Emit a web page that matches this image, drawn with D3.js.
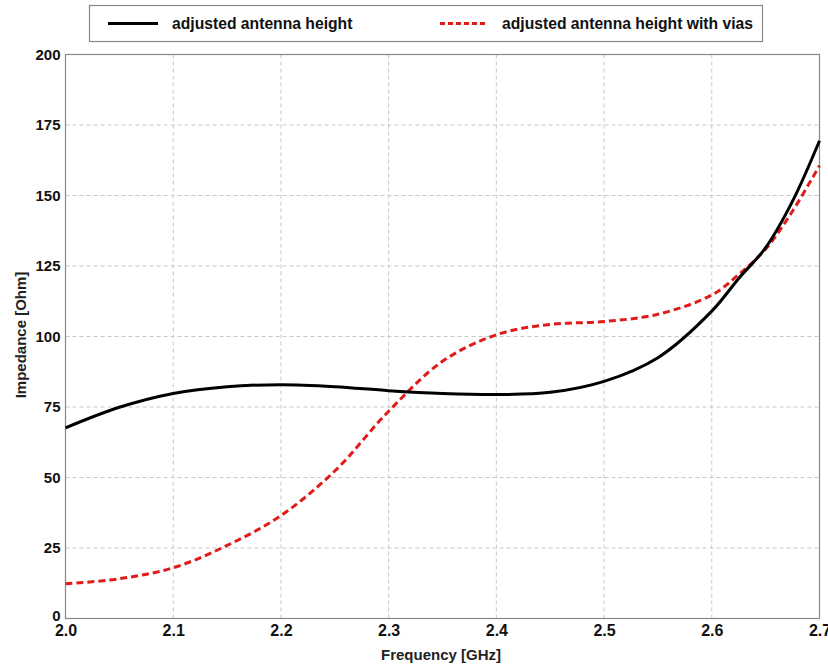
<!DOCTYPE html>
<html><head><meta charset="utf-8">
<script src="https://cdn.jsdelivr.net/npm/d3@7"></script>
<style>body{margin:0;background:#fff;font-family:"Liberation Sans",Arial,sans-serif;}</style>
</head><body><svg id="c" width="828" height="665"></svg>
<script>
const freq = [2.0,2.05,2.1,2.15,2.2,2.25,2.3,2.35,2.4,2.45,2.5,2.55,2.6,2.625,2.65,2.675,2.7];
const heightSeries = [67.6,74.9,79.8,82.2,82.9,82.2,80.8,79.8,79.4,80.2,84.1,92.5,109,120.6,131.5,148,169.4];
const viasSeries = [12.3,14.1,18.0,25.9,36.5,52.3,73.5,91.2,100.6,104.3,105.3,107.9,114.7,122,131,144.5,160.6];
const xTicks = [2.0,2.1,2.2,2.3,2.4,2.5,2.6,2.7];
const yTicks = [0,25,50,75,100,125,150,175,200];
const seriesNames = ["adjusted antenna height","adjusted antenna height with vias"];

const svg = d3.select("#c");
const L=65.5, R=819.5, T=54.5, B=618.5;
const x = d3.scaleLinear().domain([2.0,2.7]).range([L,R]);
const y = d3.scaleLinear().domain([0,200]).range([B,T]);

// grid
svg.append("g").selectAll("line").data(xTicks.slice(1,-1)).join("line")
  .attr("x1",d=>x(d)).attr("x2",d=>x(d)).attr("y1",T).attr("y2",B)
  .attr("stroke","#c8c8c8").attr("stroke-dasharray","4,3").attr("stroke-width",1);
svg.append("g").selectAll("line").data(yTicks.slice(1,-1)).join("line")
  .attr("y1",d=>y(d)).attr("y2",d=>y(d)).attr("x1",L).attr("x2",R)
  .attr("stroke","#c8c8c8").attr("stroke-dasharray","4,3").attr("stroke-width",1);

// frame
svg.append("rect").attr("x",L).attr("y",T).attr("width",R-L).attr("height",B-T)
  .attr("fill","none").attr("stroke","#888").attr("stroke-width",1.2);

// axes tick labels
const xAxis = d3.axisBottom(x).tickValues(xTicks).tickFormat(d3.format(".1f")).tickSize(0).tickPadding(6);
const gx = svg.append("g").attr("transform",`translate(0,${B})`).call(xAxis);
gx.select(".domain").remove();
gx.selectAll("text").attr("font-size",16).attr("font-weight","bold").attr("fill","#111").attr("font-family","Liberation Sans, Arial");
const yAxis = d3.axisLeft(y).tickValues(yTicks).tickFormat(d3.format("d")).tickSize(0).tickPadding(5);
const gy = svg.append("g").attr("transform",`translate(${L},0)`).call(yAxis);
gy.select(".domain").remove();
gy.selectAll("text").attr("font-size",15).attr("font-weight","bold").attr("fill","#111").attr("font-family","Liberation Sans, Arial");
gy.selectAll(".tick").filter(d=>d===0).select("text").attr("dy","0.1em");

// axis titles
svg.append("text").attr("x",441).attr("y",660).attr("text-anchor","middle")
  .attr("font-size",15).attr("font-weight","bold").attr("fill","#222").text("Frequency [GHz]");
svg.append("text").attr("transform",`translate(26,${335}) rotate(-90)`).attr("text-anchor","middle")
  .attr("font-size",15).attr("font-weight","bold").attr("fill","#222").text("Impedance [Ohm]");

// lines
const line = d3.line().curve(d3.curveCatmullRom.alpha(0.5)).x((d,i)=>x(freq[i])).y(d=>y(d));
svg.append("path").datum(viasSeries).attr("d",line).attr("fill","none")
  .attr("stroke","#e01b1b").attr("stroke-width",3).attr("stroke-dasharray","7,4");
svg.append("path").datum(heightSeries).attr("d",line).attr("fill","none")
  .attr("stroke","#000").attr("stroke-width",3);

// legend
const lg = svg.append("g");
lg.append("rect").attr("x",89.5).attr("y",5.5).attr("width",673).attr("height",36)
  .attr("fill","#fff").attr("stroke","#888").attr("stroke-width",1.2);
lg.append("line").attr("x1",108).attr("x2",158).attr("y1",23.5).attr("y2",23.5).attr("stroke","#000").attr("stroke-width",3);
lg.append("text").attr("x",172).attr("y",29).attr("font-size",15.7).attr("font-weight","bold").attr("fill","#111").text(seriesNames[0]);
lg.append("line").attr("x1",440).attr("x2",488).attr("y1",23.5).attr("y2",23.5).attr("stroke","#e01b1b").attr("stroke-width",3).attr("stroke-dasharray","5,3");
lg.append("text").attr("x",502).attr("y",29).attr("font-size",15.7).attr("font-weight","bold").attr("fill","#111").text(seriesNames[1]);
</script></body></html>
